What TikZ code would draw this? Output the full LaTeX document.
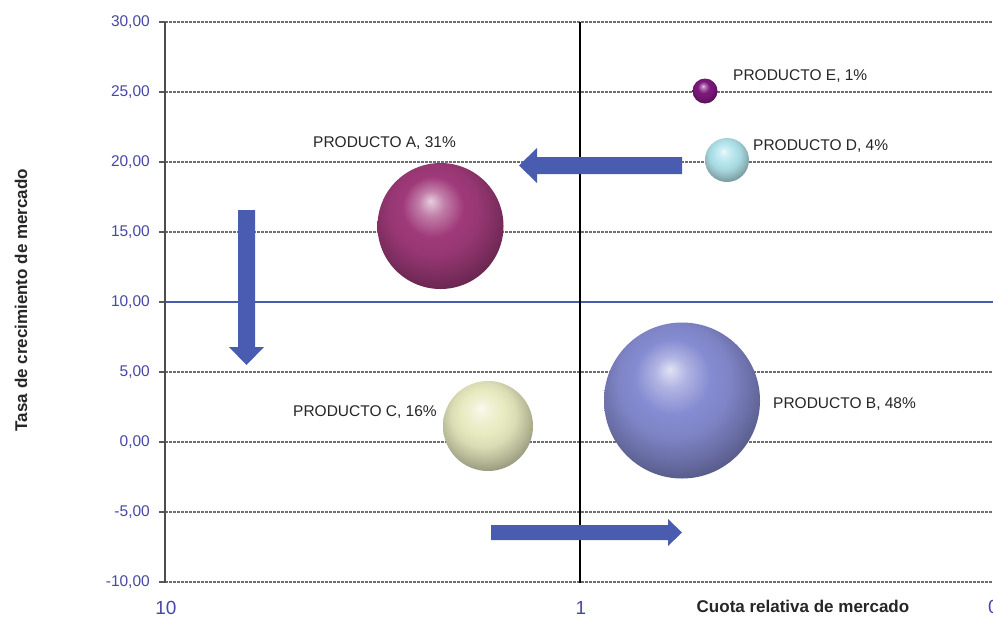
\documentclass[tikz,border=0pt]{standalone}
\usepackage{fontspec}
\setmainfont{Liberation Sans}
\definecolor{ticktxt}{RGB}{72,72,168}
\definecolor{arrowblue}{RGB}{74,92,176}
\definecolor{gridgrey}{RGB}{110,110,110}
\definecolor{ballA}{RGB}{160,58,122}
\definecolor{ballB}{RGB}{134,140,210}
\definecolor{ballC}{RGB}{232,234,192}
\definecolor{ballD}{RGB}{178,228,236}
\definecolor{ballE}{RGB}{125,25,125}
\newcommand{\mkball}[2]{%
  \pgfdeclareradialshading{#1}{\pgfqpoint{-4bp}{10bp}}{%
    color(0bp)=(#2!25!white);
    color(5bp)=(#2!65!white);
    color(12bp)=(#2);
    color(18bp)=(#2!94!black);
    color(24bp)=(#2!80!black);
    color(30bp)=(#2!64!black);
    color(36bp)=(#2!55!black);
    color(50bp)=(#2!55!black)}}
\mkball{shA}{ballA}
\mkball{shB}{ballB}
\mkball{shC}{ballC}
\mkball{shD}{ballD}
\mkball{shE}{ballE}
\tikzset{
  gridline/.style={gridgrey, line width=1.1pt, dash pattern=on 2.5pt off 1.5pt},
  ytick/.style={anchor=east, text=ticktxt, inner sep=0pt, font=\fontsize{15.5}{18}\selectfont},
  xtick/.style={text=ticktxt, inner sep=0pt, font=\fontsize{19}{22}\selectfont},
  plabel/.style={text=black!85, inner sep=0pt, font=\fontsize{15.5}{18}\selectfont},
  axtitle/.style={inner sep=0pt, text=black!85, font=\fontsize{17}{20}\selectfont\bfseries},
  bubble/.style={circle, inner sep=0pt, draw=none},
  blockarrow/.style={fill=arrowblue, draw=none}
}
\begin{document}
\begin{tikzpicture}[x=1pt,y=-1pt]
\useasboundingbox (0,0) rectangle (993,619);
\clip (0,0) rectangle (993,619);
\fill[white] (0,0) rectangle (993,619);
% grid lines
\foreach \yy in {22,92,162,232,372,442,512,582} {
  \draw[gridline] (165,\yy) -- (993,\yy);
  \draw[gridgrey!80!black, line width=1.1pt] (159,\yy) -- (165,\yy);
}
\draw[gridgrey!80!black, line width=1.1pt] (159,302) -- (165,302);
% blue 10,00 line
\draw[arrowblue, line width=2pt] (165,302) -- (993,302);
% axes
\draw[gridgrey!70!black, line width=1.3pt] (165,22) -- (165,583);
\draw[black, line width=1.3pt] (580,22) -- (580,583);
% y tick labels
\node[ytick] (y30) at (150,22) {30,00};
\node[ytick] (y25) at (150,92) {25,00};
\node[ytick] (y20) at (150,162) {20,00};
\node[ytick] (y15) at (150,232) {15,00};
\node[ytick] (y10) at (150,302) {10,00};
\node[ytick] (y5) at (150,372) {5,00};
\node[ytick] (y0) at (150,442) {0,00};
\node[ytick] (ym5) at (150,512) {-5,00};
\node[ytick] (ym10) at (150,582) {-10,00};
% x tick labels
\node[xtick] (x10) at (166,608) {10};
\node[xtick] (x1) at (581,608) {1};
\node[xtick, anchor=west] (x01) at (988,608) {0,1};
% axis titles
\node[axtitle] (xt) at (803,606) {Cuota relativa de mercado};
\node[axtitle, rotate=90] (yt) at (21,300) {Tasa de crecimiento de mercado};
% block arrows
\fill[blockarrow] (682,157) -- (537,157) -- (537,148) -- (519,165.5) -- (537,183) -- (537,174) -- (682,174) -- cycle;
\fill[blockarrow] (238,210) -- (255,210) -- (255,347) -- (264,347) -- (246.5,365) -- (229,347) -- (238,347) -- cycle;
\fill[blockarrow] (491,525) -- (668,525) -- (668,519) -- (682,532.5) -- (668,546) -- (668,540) -- (491,540) -- cycle;
% bubbles
\node[bubble, minimum size=126pt, shading=shA] (A) at (440.5,226) {};
\node[bubble, minimum size=156pt, shading=shB] (B) at (682,400.5) {};
\node[bubble, minimum size=90pt, shading=shC] (C) at (488,426) {};
\node[bubble, minimum size=44pt, shading=shD] (D) at (727,160) {};
\node[bubble, minimum size=25pt, shading=shE] (E) at (705,91) {};
% labels
\node[plabel, anchor=west] (lA) at (313,143) {PRODUCTO A, 31\%};
\node[plabel, anchor=west] (lB) at (773,404) {PRODUCTO B, 48\%};
\node[plabel, anchor=west] (lC) at (293,412) {PRODUCTO C, 16\%};
\node[plabel, anchor=west] (lD) at (753,146) {PRODUCTO D, 4\%};
\node[plabel, anchor=west] (lE) at (733,76) {PRODUCTO E, 1\%};
\end{tikzpicture}
\end{document}
